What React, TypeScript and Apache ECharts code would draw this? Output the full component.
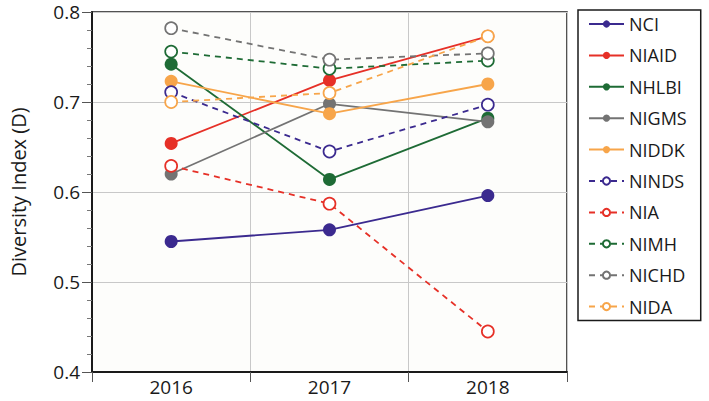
import React, { useEffect, useRef } from "react";
import * as echarts from "echarts";

const years = ["2016", "2017", "2018"];
const seriesNames = ["NCI", "NIAID", "NHLBI", "NIGMS", "NIDDK", "NINDS", "NIA", "NIMH", "NICHD", "NIDA"];
const nci = [0.545, 0.558, 0.596];
const niaid = [0.654, 0.724, 0.773];
const nhlbi = [0.742, 0.614, 0.682];
const nigms = [0.62, 0.698, 0.678];
const niddk = [0.723, 0.687, 0.72];
const ninds = [0.711, 0.645, 0.697];
const nia = [0.629, 0.587, 0.445];
const nimh = [0.756, 0.737, 0.746];
const nichd = [0.782, 0.747, 0.754];
const nida = [0.7, 0.71, 0.773];
const yTicks = [0.4, 0.5, 0.6, 0.7, 0.8];

const purple = "#3b2a8f";
const red = "#e63027";
const green = "#1e6b35";
const gray = "#737373";
const orange = "#f7a54a";

const values = [nci, niaid, nhlbi, nigms, niddk, ninds, nia, nimh, nichd, nida];
const colors = [purple, red, green, gray, orange, purple, red, green, gray, orange];
const dashed = [false, false, false, false, false, true, true, true, true, true];

export default function App() {
  const ref = useRef<HTMLDivElement>(null);
  useEffect(() => {
    document.body.style.margin = "0";
    const chart = echarts.init(ref.current!, null, { renderer: "svg" });
    const font = "'Open Sans', 'Noto Sans', sans-serif";
    const series = seriesNames.map((name, i) => ({
      name,
      type: "line",
      data: values[i],
      symbol: "circle",
      symbolSize: dashed[i] ? 12 : 13,
      lineStyle: { color: colors[i], width: 1.8, type: dashed[i] ? [6, 5] : "solid" },
      itemStyle: dashed[i]
        ? { color: "#ffffff", borderColor: colors[i], borderWidth: 1.7 }
        : { color: colors[i], borderColor: colors[i], borderWidth: 0 },
      z: 2,
    }));
    chart.setOption({
      animation: false,
      backgroundColor: "#ffffff",
      textStyle: { fontFamily: font },
      grid: {
        left: 84,
        right: 142,
        top: 12,
        bottom: 29,
        show: true,
        borderColor: "#1a1a1a",
        borderWidth: 1.5,
        backgroundColor: "#fdfdfb",
      },
      legend: {
        orient: "vertical",
        left: 578,
        top: 10,
        data: seriesNames,
        itemWidth: 35,
        itemHeight: 9,
        itemGap: 7.4,
        itemTextGap: 17,
        padding: [2, 14, 2, 10],
        borderColor: "#1a1a1a",
        borderWidth: 1.5,
        backgroundColor: "#ffffff",
        textStyle: { fontSize: 18, color: "#1a1a1a", lineHeight: 24, fontFamily: font },
      },
      xAxis: {
        type: "category",
        data: years,
        boundaryGap: true,
        axisLine: { show: true, lineStyle: { color: "#1a1a1a", width: 2 } },
        axisTick: { show: true, length: 10, lineStyle: { color: "#555", width: 1 } },
        axisLabel: { fontSize: 19, color: "#1a1a1a", margin: 5 },
        splitLine: { show: true, lineStyle: { color: "#c8c8c8", width: 1 } },
      },
      yAxis: {
        type: "value",
        min: 0.4,
        max: 0.8,
        interval: 0.1,
        name: "Diversity Index (D)",
        nameLocation: "middle",
        nameGap: 64,
        nameTextStyle: { fontSize: 20, color: "#1a1a1a" },
        axisLine: { show: true, lineStyle: { color: "#1a1a1a", width: 2 } },
        axisTick: { show: true, length: 10, lineStyle: { color: "#555", width: 1 } },
        minorTick: { show: true, splitNumber: 5, length: 5, lineStyle: { color: "#777", width: 1 } },
        axisLabel: {
          fontSize: 19,
          lineHeight: 16,
          color: "#1a1a1a",
          margin: 12,
          formatter: (v: number) => (yTicks.some((t) => Math.abs(t - v) < 1e-6) ? v.toFixed(1) : ""),
        },
        splitLine: { show: true, lineStyle: { color: "#c8c8c8", width: 1 } },
      },
      series,
    });
    return () => chart.dispose();
  }, []);
  return <div ref={ref} style={{ width: 709, height: 401 }} />;
}
